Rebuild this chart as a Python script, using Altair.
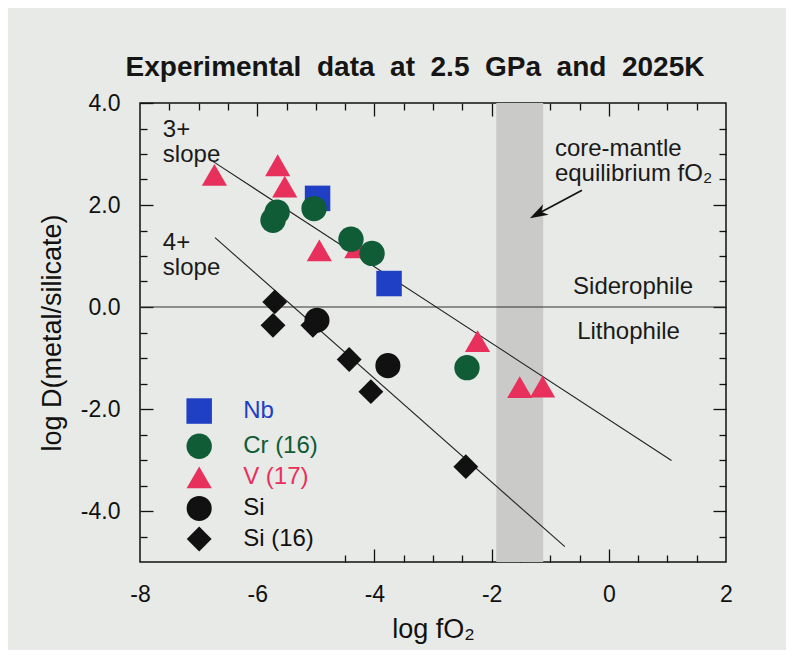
import altair as alt
import pandas as pd

# ---------------- data ----------------
nb_x = [-4.97, -3.75]
nb_y = [2.13, 0.46]
v_x = [-6.73, -5.65, -5.53, -4.94, -4.30, -2.24, -1.52, -1.13]
v_y = [2.59, 2.78, 2.36, 1.11, 1.17, -0.67, -1.57, -1.56]
cr_x = [-5.73, -5.66, -5.03, -4.40, -4.04, -2.42]
cr_y = [1.70, 1.86, 1.93, 1.33, 1.05, -1.19]
si_x = [-4.98, -3.77]
si_y = [-0.26, -1.15]
si16_x = [-5.70, -5.73, -5.05, -4.43, -4.06, -2.44]
si16_y = [0.10, -0.36, -0.36, -1.03, -1.66, -3.13]

series = ["Nb", "Cr (16)", "V (17)", "Si", "Si (16)"]

slope3_x = [-6.75, 1.07]
slope3_y = [2.85, -3.01]
slope4_x = [-6.72, -0.75]
slope4_y = [1.36, -4.70]

cmf_band = [-1.92, -1.12]          # core-mantle equilibrium fO2 range
zero_line = [0.0]

x_labels = [-8, -6, -4, -2, 0, 2]
y_labels = [-4, -2, 0, 2, 4]

# ---------------- styles / layout ----------------
FONT = "Liberation Sans"
INK = "#111111"
colors = ["#1f3fc4", "#0f5c36", "#e8305c", "#111111", "#111111"]
shapes = ["square", "circle", "triangle-up", "circle", "diamond"]
sizes = [650, 620, 570, 730, 540]

X = alt.Scale(domain=[-8, 2], nice=False, zero=False)
Y = alt.Scale(domain=[-5, 4], nice=False, zero=False)
color_scale = alt.Scale(domain=series, range=colors)
shape_scale = alt.Scale(domain=series, range=shapes)
size_scale = alt.Scale(domain=series, range=sizes)

MAJ, MIN = 13, 7


def tick_axis(orient, values, size):
    return alt.Axis(orient=orient, values=values, tickSize=size, offset=-size,
                    labels=False, domain=False, grid=False, title=None,
                    tickColor=INK, tickWidth=1.3)


x_major_top = [-6, -4, -2, 0]
x_minor_top = [-7.5, -7, -6.5, -5.5, -5, -4.5, -3.5, -3, -2.5, -1.5, -1, -0.5, 0.5, 1, 1.5]
x_major_bot = [-4, -2, 0]
x_minor_bot = [-4.5, -3.5, -3, -2.5, -1.5, -1, -0.5, 0.5, 1, 1.5]
y_major = [-4, -2, 0, 2]
y_minor = [-4.5, -3.5, -3, -2.5, -1.5, -1, -0.5, 0.5, 1, 1.5, 2.5, 3, 3.5]

x_label_axis = alt.Axis(
    orient="bottom", values=x_labels, ticks=False, domain=False, grid=False,
    labelExpr="replace(format(datum.value, 'd'), '\u2212', '-')",
    labelFont=FONT, labelFontSize=23, labelColor=INK, labelPadding=21,
    labelFlush=False, labelOverlap=False,
    title="log fO\u2082", titleFont=FONT, titleFontSize=27, titleFontWeight="normal",
    titleColor=INK, titlePadding=10)

y_label_axis = alt.Axis(
    orient="left", values=y_labels, tickSize=MAJ, offset=-MAJ, domain=False, grid=False,
    tickColor=INK, tickWidth=1.3,
    labelExpr="replace(format(datum.value, '.1f'), '\u2212', '-')",
    labelFont=FONT, labelFontSize=23, labelColor=INK, labelPadding=20,
    labelFlush=False, labelOverlap=False,
    title="log D(metal/silicate)", titleFont=FONT, titleFontSize=27,
    titleFontWeight="normal", titleColor=INK, titlePadding=14)

# ---------------- tables ----------------
rows = []
for name, xs, ys in [("Nb", nb_x, nb_y), ("V (17)", v_x, v_y), ("Cr (16)", cr_x, cr_y),
                     ("Si", si_x, si_y), ("Si (16)", si16_x, si16_y)]:
    for a, b in zip(xs, ys):
        rows.append({"series": name, "x": a, "y": b})
pts = pd.DataFrame(rows)

lines = pd.DataFrame({
    "x": slope3_x + slope4_x,
    "y": slope3_y + slope4_y,
    "grp": ["3+"] * 2 + ["4+"] * 2,
})

band = pd.DataFrame({"x0": [cmf_band[0]], "x1": [cmf_band[1]], "y0": [-5], "y1": [4]})
zero = pd.DataFrame({"y": zero_line})

# legend drawn inside the plot (layout positions)
legend_sym_x = -6.99
legend_txt_x = -6.24
legend_rows_y = [-2.04, -2.73, -3.34, -3.95, -4.55]
legend = pd.DataFrame({"series": series, "x": [legend_sym_x] * 5,
                       "tx": [legend_txt_x] * 5, "y": legend_rows_y})

notes = pd.DataFrame({
    "text": ["3+", "slope", "4+", "slope", "core-mantle", "equilibrium fO\u2082",
             "Siderophile", "Lithophile"],
    "x": [-7.61, -7.61, -7.61, -7.61, -0.92, -0.92, -0.61, -0.54],
    "y": [3.34, 2.85, 1.11, 0.62, 2.97, 2.47, 0.26, -0.62],
})

arrow = pd.DataFrame({"x": [-0.457, -1.21], "y": [2.29, 1.827]})
arrow_head = pd.DataFrame({"x": [-1.21], "y": [1.827]})

# ---------------- layers ----------------
band_layer = alt.Chart(band).mark_rect(color="#cacbc9").encode(
    x=alt.X("x0:Q", scale=X, axis=x_label_axis),
    x2="x1:Q",
    y=alt.Y("y0:Q", scale=Y, axis=y_label_axis),
    y2="y1:Q",
)

zero_layer = alt.Chart(zero).mark_rule(color="#333333", strokeWidth=1.1).encode(
    y=alt.Y("y:Q", scale=Y, axis=tick_axis("left", y_minor, MIN)),
)

line_layer = alt.Chart(lines).mark_line(color="#222222", strokeWidth=1.1).encode(
    x=alt.X("x:Q", scale=X, axis=tick_axis("bottom", x_major_bot, MAJ)),
    y=alt.Y("y:Q", scale=Y, axis=tick_axis("right", y_major, MAJ)),
    detail="grp:N",
)

point_layer = alt.Chart(pts).mark_point(filled=True, opacity=1, strokeWidth=0).encode(
    x=alt.X("x:Q", scale=X, axis=tick_axis("bottom", x_minor_bot, MIN)),
    y=alt.Y("y:Q", scale=Y, axis=tick_axis("right", y_minor, MIN)),
    color=alt.Color("series:N", scale=color_scale, legend=None),
    shape=alt.Shape("series:N", scale=shape_scale, legend=None),
    size=alt.Size("series:N", scale=size_scale, legend=None),
)

legend_sym = alt.Chart(legend).mark_point(filled=True, opacity=1, strokeWidth=0).encode(
    x=alt.X("x:Q", scale=X, axis=tick_axis("top", x_major_top, MAJ)),
    y=alt.Y("y:Q", scale=Y, axis=None),
    color=alt.Color("series:N", scale=color_scale, legend=None),
    shape=alt.Shape("series:N", scale=shape_scale, legend=None),
    size=alt.Size("series:N", scale=size_scale, legend=None),
)

legend_txt = alt.Chart(legend).mark_text(
    align="left", baseline="middle", font=FONT, fontSize=24).encode(
    x=alt.X("tx:Q", scale=X, axis=tick_axis("top", x_minor_top, MIN)),
    y=alt.Y("y:Q", scale=Y, axis=None),
    text="series:N",
    color=alt.Color("series:N", scale=color_scale, legend=None),
)

note_layer = alt.Chart(notes).mark_text(
    align="left", baseline="alphabetic", font=FONT, fontSize=24, color="#1a1a1a").encode(
    x=alt.X("x:Q", scale=X, axis=None),
    y=alt.Y("y:Q", scale=Y, axis=None),
    text="text:N",
)

arrow_layer = alt.Chart(arrow).mark_line(color=INK, strokeWidth=1.6).encode(
    x=alt.X("x:Q", scale=X, axis=None),
    y=alt.Y("y:Q", scale=Y, axis=None),
)

head_layer = alt.Chart(arrow_head).mark_point(
    shape="M0,-1L0.65,1L0,0.45L-0.65,1Z", angle=241.7, filled=True,
    size=330, color=INK, opacity=1, strokeWidth=0).encode(
    x=alt.X("x:Q", scale=X, axis=None),
    y=alt.Y("y:Q", scale=Y, axis=None),
)

chart = alt.layer(
    band_layer, zero_layer, line_layer, point_layer, legend_sym, legend_txt,
    note_layer, arrow_layer, head_layer,
).resolve_axis(x="independent", y="independent").properties(
    width=586, height=459,
    autosize=alt.AutoSizeParams(type="none"),
    padding={"left": 132, "top": 95, "right": 60, "bottom": 88},
    title=alt.TitleParams(
        text="Experimental\u00a0 data\u00a0 at\u00a0 2.5\u00a0 GPa\u00a0 and\u00a0 2025K",
        font=FONT, fontSize=28, fontWeight="bold", color="#151515",
        anchor="middle", frame="group", dx=-18, dy=38, offset=26, baseline="alphabetic"),
).configure(background="#e8eae7").configure_view(stroke=INK, strokeWidth=1.5)

chart.save("out.html", embed_options={"renderer": "svg", "actions": False})
